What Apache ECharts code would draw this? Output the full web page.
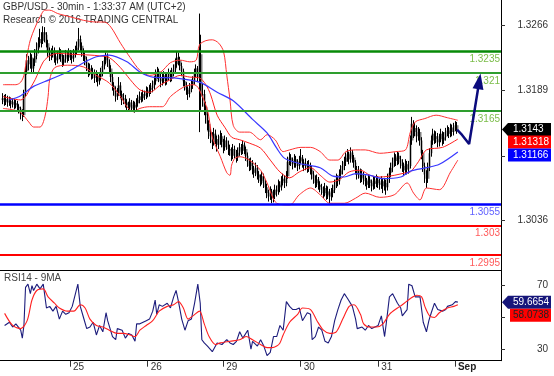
<!DOCTYPE html>
<html>
<head>
<meta charset="utf-8">
<style>
  html, body { margin: 0; padding: 0; background: #fff; }
  #chart { width: 554px; height: 376px; }
</style>
<script src="https://cdn.jsdelivr.net/npm/echarts@6/dist/echarts.min.js"></script>
</head>
<body>
<div id="chart"></div>
<script>
// GBP/USD 30min bars, index 0 = first bar on screen
const firstOpen = 1.3178
const closes = [
  1.3180,1.3176,1.3179,1.3175,1.3177,1.3173,1.3176,1.3172,1.3174,1.3170,
  1.3168,1.3162,1.3160,1.3185,1.3212,1.3225,1.3220,1.3228,1.3215,1.3222,
  1.3230,1.3238,1.3245,1.3250,1.3248,1.3258,1.3255,1.3245,1.3235,1.3230,
  1.3232,1.3236,1.3228,1.3225,1.3230,1.3234,1.3229,1.3222,1.3226,1.3231,
  1.3228,1.3233,1.3230,1.3227,1.3232,1.3236,1.3240,1.3250,1.3242,1.3235,
  1.3230,1.3226,1.3218,1.3212,1.3215,1.3208,1.3210,1.3204,1.3207,1.3200,
  1.3205,1.3210,1.3218,1.3225,1.3230,1.3222,1.3215,1.3205,1.3195,1.3190,
  1.3182,1.3186,1.3195,1.3185,1.3178,1.3180,1.3175,1.3172,1.3170,1.3175,
  1.3168,1.3172,1.3169,1.3174,1.3178,1.3182,1.3180,1.3185,1.3183,1.3188,
  1.3186,1.3190,1.3192,1.3195,1.3200,1.3208,1.3212,1.3205,1.3200,1.3203,
  1.3207,1.3200,1.3206,1.3209,1.3204,1.3210,1.3214,1.3220,1.3228,1.3225,
  1.3218,1.3212,1.3200,1.3195,1.3190,1.3185,1.3192,1.3196,1.3200,1.3210,
  1.3215,1.3205,1.3232,1.3182,1.3185,1.3170,1.3160,1.3150,1.3140,1.3135,
  1.3128,1.3138,1.3132,1.3125,1.3130,1.3135,1.3128,1.3122,1.3130,1.3126,
  1.3120,1.3118,1.3112,1.3120,1.3115,1.3110,1.3116,1.3122,1.3118,1.3125,
  1.3120,1.3112,1.3105,1.3100,1.3104,1.3096,1.3092,1.3098,1.3090,1.3086,
  1.3082,1.3088,1.3080,1.3075,1.3068,1.3064,1.3070,1.3062,1.3066,1.3072,
  1.3070,1.3078,1.3075,1.3082,1.3085,1.3080,1.3088,1.3105,1.3110,1.3106,
  1.3102,1.3108,1.3104,1.3100,1.3106,1.3110,1.3104,1.3100,1.3103,1.3098,
  1.3101,1.3096,1.3090,1.3085,1.3080,1.3084,1.3078,1.3075,1.3072,1.3068,
  1.3074,1.3066,1.3070,1.3064,1.3068,1.3072,1.3078,1.3085,1.3082,1.3090,
  1.3095,1.3100,1.3105,1.3110,1.3114,1.3108,1.3116,1.3110,1.3104,1.3096,
  1.3090,1.3094,1.3086,1.3090,1.3084,1.3082,1.3078,1.3084,1.3080,1.3076,
  1.3082,1.3079,1.3084,1.3080,1.3078,1.3082,1.3076,1.3080,1.3075,1.3085,
  1.3092,1.3098,1.3104,1.3110,1.3106,1.3112,1.3108,1.3104,1.3100,1.3095,
  1.3102,1.3096,1.3100,1.3130,1.3150,1.3140,1.3145,1.3135,1.3140,1.3130,
  1.3115,1.3100,1.3090,1.3085,1.3098,1.3115,1.3130,1.3138,1.3132,1.3135,
  1.3128,1.3132,1.3138,1.3130,1.3134,1.3140,1.3142,1.3138,1.3145,1.3140,
  1.3146,1.3148,1.3143
]
const highs = [
  1.3186,1.3184,1.3185,1.3183,1.3182,1.3181,1.3180,1.3179,1.3178,1.3177,
  1.3173,1.3170,1.3167,1.3190,1.3218,1.3232,1.3230,1.3234,1.3232,1.3227,
  1.3238,1.3246,1.3252,1.3262,1.3258,1.3265,1.3264,1.3258,1.3249,1.3240,
  1.3239,1.3242,1.3240,1.3233,1.3236,1.3240,1.3238,1.3232,1.3231,1.3237,
  1.3235,1.3239,1.3237,1.3234,1.3238,1.3242,1.3247,1.3263,1.3254,1.3246,
  1.3239,1.3234,1.3229,1.3222,1.3221,1.3219,1.3216,1.3214,1.3213,1.3210,
  1.3211,1.3216,1.3224,1.3230,1.3234,1.3233,1.3226,1.3219,1.3209,1.3199,
  1.3194,1.3192,1.3205,1.3199,1.3189,1.3186,1.3184,1.3179,1.3176,1.3180,
  1.3178,1.3177,1.3176,1.3180,1.3184,1.3188,1.3187,1.3190,1.3189,1.3194,
  1.3193,1.3196,1.3198,1.3201,1.3206,1.3214,1.3217,1.3215,1.3209,1.3209,
  1.3212,1.3211,1.3211,1.3215,1.3213,1.3216,1.3220,1.3227,1.3235,1.3234,
  1.3229,1.3222,1.3215,1.3204,1.3199,1.3194,1.3198,1.3202,1.3206,1.3215,
  1.3220,1.3218,1.3280,1.3255,1.3198,1.3190,1.3176,1.3165,1.3154,1.3146,
  1.3140,1.3145,1.3143,1.3136,1.3137,1.3142,1.3139,1.3132,1.3136,1.3134,
  1.3130,1.3125,1.3122,1.3126,1.3124,1.3119,1.3122,1.3127,1.3126,1.3130,
  1.3128,1.3123,1.3116,1.3109,1.3110,1.3107,1.3100,1.3104,1.3101,1.3094,
  1.3090,1.3094,1.3091,1.3084,1.3079,1.3072,1.3076,1.3073,1.3072,1.3078,
  1.3077,1.3084,1.3082,1.3088,1.3091,1.3089,1.3094,1.3111,1.3116,1.3114,
  1.3110,1.3114,1.3112,1.3108,1.3112,1.3120,1.3113,1.3108,1.3109,1.3106,
  1.3107,1.3104,1.3100,1.3094,1.3089,1.3090,1.3087,1.3082,1.3079,1.3076,
  1.3080,1.3077,1.3076,1.3073,1.3074,1.3078,1.3084,1.3091,1.3089,1.3096,
  1.3101,1.3106,1.3111,1.3116,1.3120,1.3117,1.3122,1.3119,1.3113,1.3107,
  1.3100,1.3100,1.3097,1.3096,1.3093,1.3089,1.3086,1.3090,1.3088,1.3084,
  1.3088,1.3087,1.3090,1.3088,1.3085,1.3088,1.3085,1.3086,1.3084,1.3091,
  1.3098,1.3104,1.3110,1.3116,1.3114,1.3117,1.3116,1.3112,1.3108,1.3104,
  1.3108,1.3106,1.3106,1.3136,1.3158,1.3154,1.3151,1.3148,1.3146,1.3144,
  1.3134,1.3119,1.3104,1.3095,1.3104,1.3121,1.3136,1.3144,1.3142,1.3141,
  1.3139,1.3138,1.3144,1.3141,1.3140,1.3145,1.3148,1.3146,1.3150,1.3149,
  1.3151,1.3153,1.3152
]
const lows = [
  1.3173,1.3171,1.3172,1.3170,1.3171,1.3168,1.3169,1.3167,1.3168,1.3164,
  1.3162,1.3155,1.3153,1.3158,1.3182,1.3208,1.3213,1.3215,1.3210,1.3211,
  1.3218,1.3226,1.3233,1.3240,1.3240,1.3244,1.3246,1.3240,1.3229,1.3224,
  1.3225,1.3228,1.3222,1.3219,1.3221,1.3226,1.3223,1.3217,1.3218,1.3222,
  1.3222,1.3224,1.3225,1.3221,1.3223,1.3228,1.3232,1.3237,1.3236,1.3229,
  1.3224,1.3219,1.3212,1.3205,1.3207,1.3202,1.3203,1.3198,1.3199,1.3194,
  1.3196,1.3201,1.3206,1.3214,1.3220,1.3217,1.3209,1.3199,1.3189,1.3183,
  1.3176,1.3178,1.3183,1.3180,1.3172,1.3173,1.3169,1.3166,1.3165,1.3166,
  1.3164,1.3164,1.3163,1.3165,1.3170,1.3174,1.3175,1.3176,1.3178,1.3179,
  1.3181,1.3182,1.3185,1.3187,1.3190,1.3196,1.3203,1.3199,1.3193,1.3195,
  1.3198,1.3195,1.3196,1.3201,1.3199,1.3200,1.3206,1.3210,1.3216,1.3219,
  1.3213,1.3206,1.3194,1.3189,1.3184,1.3178,1.3181,1.3187,1.3191,1.3196,
  1.3205,1.3199,1.3140,1.3166,1.3170,1.3160,1.3150,1.3142,1.3132,1.3127,
  1.3120,1.3124,1.3126,1.3117,1.3120,1.3125,1.3122,1.3115,1.3118,1.3119,
  1.3113,1.3112,1.3106,1.3108,1.3109,1.3104,1.3106,1.3112,1.3113,1.3114,
  1.3114,1.3106,1.3099,1.3094,1.3095,1.3090,1.3086,1.3088,1.3084,1.3080,
  1.3076,1.3078,1.3074,1.3068,1.3062,1.3058,1.3060,1.3056,1.3057,1.3061,
  1.3064,1.3066,1.3069,1.3071,1.3077,1.3074,1.3076,1.3085,1.3101,1.3100,
  1.3096,1.3098,1.3098,1.3094,1.3096,1.3102,1.3098,1.3094,1.3095,1.3092,
  1.3093,1.3090,1.3084,1.3079,1.3074,1.3075,1.3072,1.3069,1.3066,1.3062,
  1.3064,1.3060,1.3061,1.3056,1.3059,1.3063,1.3068,1.3074,1.3076,1.3078,
  1.3085,1.3090,1.3095,1.3100,1.3105,1.3102,1.3104,1.3104,1.3098,1.3090,
  1.3084,1.3085,1.3080,1.3081,1.3078,1.3076,1.3072,1.3074,1.3074,1.3070,
  1.3072,1.3073,1.3075,1.3074,1.3072,1.3073,1.3068,1.3071,1.3066,1.3071,
  1.3080,1.3087,1.3093,1.3099,1.3100,1.3101,1.3102,1.3097,1.3093,1.3088,
  1.3090,1.3090,1.3091,1.3097,1.3125,1.3133,1.3135,1.3128,1.3130,1.3124,
  1.3108,1.3093,1.3080,1.3074,1.3080,1.3094,1.3111,1.3125,1.3126,1.3127,
  1.3122,1.3123,1.3128,1.3124,1.3126,1.3130,1.3135,1.3133,1.3134,1.3135,
  1.3136,1.3141,1.3138
]

// indicator lines: [bar index, value]
const upperBand = [[0,1.3196],[8,1.3196],[11,1.3199],[13,1.3207],[15,1.3231],[17,1.3249],[20,1.3264],[23,1.3276],[26,1.3284],[29,1.3284],[34,1.3280],[42,1.3276],[50,1.3272],[58,1.3270],[63,1.3270],[67,1.3264],[73,1.3245],[79,1.3228],[85,1.3213],[91,1.3207],[98,1.3211],[104,1.3222],[110,1.3225],[116,1.3223],[120,1.3225],[122,1.3243],[126,1.3248],[130,1.3249],[134,1.3245],[137,1.3235],[139,1.3207],[141,1.3178],[143,1.3148],[147,1.3140],[153,1.3140],[160,1.3131],[164,1.3137],[169,1.3131],[174,1.3117],[178,1.3119],[185,1.3122],[191,1.3122],[197,1.3117],[203,1.3107],[208,1.3107],[213,1.3117],[219,1.3119],[225,1.3119],[234,1.3115],[244,1.3117],[250,1.3119],[253,1.3140],[256,1.3152],[262,1.3156],[269,1.3160],[276,1.3157],[282.5,1.3154]]
const middleBand = [[0,1.3182],[11,1.3178],[14,1.3182],[17,1.3192],[20,1.3202],[25,1.3223],[29,1.3230],[34,1.3233],[42,1.3232],[54,1.3231],[60,1.3230],[66,1.3228],[73,1.3216],[79,1.3202],[85,1.3190],[91,1.3187],[98,1.3196],[104,1.3202],[110,1.3207],[116,1.3205],[122,1.3204],[126,1.3196],[129,1.3184],[133,1.3160],[138,1.3145],[142,1.3134],[147,1.3131],[153,1.3127],[160,1.3121],[166,1.3107],[172,1.3093],[178,1.3086],[184,1.3093],[191,1.3098],[197,1.3089],[203,1.3081],[209,1.3084],[215,1.3093],[222,1.3095],[228,1.3089],[234,1.3087],[243,1.3089],[250,1.3092],[253,1.3093],[258,1.3105],[263,1.3119],[273,1.3122],[282.5,1.31318]]
const lowerBand = [[0,1.3168],[7,1.3166],[11,1.3163],[16,1.3152],[19,1.3146],[23,1.3146],[26,1.3158],[28,1.3182],[29,1.3202],[32,1.3216],[40,1.3219],[50,1.3217],[58,1.3207],[66,1.3198],[73,1.3182],[77,1.3170],[81,1.3164],[85,1.3168],[91,1.3170],[99,1.3170],[104,1.3182],[112,1.3193],[118,1.3196],[120,1.3195],[122,1.3190],[127,1.3166],[130,1.3134],[135,1.3111],[139,1.3092],[141,1.3089],[142,1.3101],[144,1.3109],[147,1.3111],[153,1.3107],[160,1.3095],[164,1.3080],[170,1.3056],[178,1.3054],[184,1.3066],[191,1.3074],[197,1.3066],[203,1.3056],[212,1.3056],[219,1.3062],[225,1.3068],[234,1.3063],[243,1.3066],[251,1.3080],[255,1.3068],[259,1.3060],[263,1.3074],[271,1.3072],[278,1.3093],[282.5,1.3107]]
const longMA = [[4,1.3178],[11,1.3183],[19,1.3194],[29,1.3202],[40,1.3211],[50,1.3222],[58,1.3229],[66,1.3231],[77,1.3223],[85,1.3211],[93,1.3205],[106,1.3204],[122,1.3199],[133,1.3187],[143,1.3177],[155,1.3155],[164,1.3139],[170,1.3121],[175,1.3109],[184,1.3103],[197,1.3098],[205,1.3088],[212,1.3087],[219,1.3091],[228,1.3089],[236,1.3085],[247,1.3087],[253,1.3094],[263,1.3098],[271,1.3102],[282.5,1.31166]]

const rsi = [[1,45],[4,47],[6,44],[8,46],[11,42],[12,37],[13,45],[14,69],[15.5,71],[17,65],[18,70],[19,67],[21,71],[23,68],[25,71],[27,56],[29,57],[31,54],[33,57],[35,49],[37,54],[39,52],[41,53],[43,57],[45,65],[46.5,71],[48,57],[50,50],[52,43],[54,44],[56,47],[58,39],[60,45],[62,41],[64,53],[65,48],[68,38],[70,36],[71,43],[74,42],[76,37],[78,40],[80,39],[82,35],[83,46],[85,46],[87,47],[89,48],[91,49],[93,54],[94.5,61],[95.5,52],[97,58],[99,57],[102,59],[104,56],[106,63],[107.5,67],[109,60],[111,49],[113,42],[115,48],[117,49],[119,59],[121,71],[122.5,59],[123.5,36],[125,34],[127,32],[130,28.5],[133,34],[136,33],[139,36],[141,34],[143,33],[145,35],[147,41],[149,37],[152,42],[154,30],[155,35],[158,32],[160,36],[162,32],[164,26],[166,28],[168,38],[170,38],[172,45],[174,42],[176,60],[178,57],[180,55],[182,55],[184,56],[186,48],[189,53],[191,52],[192,36],[194,38],[196,44],[198,42],[200,35],[202,34],[204,38],[206,48],[208,55],[210,61],[212,65],[214,62],[217,57],[219,49],[220,43],[223,44],[225,42],[227,45],[229,43],[231,44],[233,45],[235,51],[237,38],[238,46],[240,63],[242,65],[245,59],[247,56],[248,51],[251,55],[252,71],[254,70],[256,63],[259,63],[260,55],[261,47],[263,41],[264.5,48],[266,53],[268,59],[270,55],[273,54],[275,55],[276,57],[279,58],[281,60],[282,61],[282.5,59.6654]]
const rsiMA = [[1,52.6],[6,45],[11,43],[15,48],[18,61],[21,67],[25,68],[28,63],[32,59],[35,56],[40,54],[44,54],[48,58],[51,56],[54,49],[58,45],[62,44],[66,42],[71,40],[75,40],[79,39],[82,38],[85,42],[89,45],[93,48],[97,54],[102,57],[106,58],[109,60],[112,56],[115,49],[118,51],[122,54],[125,46],[128,38],[132,33],[135,34],[141,35],[147,36],[151,38],[155,36],[160,33],[164,31],[167,31],[170,32],[172,34],[174,39],[178,47],[183,52],[186,56],[191,55],[195,48],[199,42],[203,40],[207,41],[211,49],[215,57],[218,58],[222,52],[224,46],[228,44],[232,44],[236,46],[240,52],[245,56],[248,58],[253,62],[257,64],[260,63],[262,57],[265,51],[268,50],[271,53],[276,56],[280,57],[282.5,58.0738]]

// forecast path: last close, dip, then up towards 1.321
const forecast = [[282,1.3143],[284.5,1.3138],[289.5,1.3126],[295.8,1.3200]]

const levels = [1.3235, 1.321, 1.3165, 1.3055, 1.303, 1.2995]
const levelText = ['1.3235', '1.321', '1.3165', '1.3055', '1.303', '1.2995']

const priceTicks = [1.3036, 1.3112, 1.3189, 1.3266]
const priceLabels = [1.3036, 1.3189, 1.3266]
const rsiTicks = [30, 50, 70]
const rsiLabels = [30, 70]
const dayTicks = [41.6, 89.9, 136.8, 184.9, 233.1, 280.7]
const dayNames = ['25', '26', '29', '30', '31', 'Sep']

const lastPrice = 1.3143
const midValue = 1.31318
const maValue = 1.31166
const rsiLast = 59.6654
const rsiMALast = 58.0738

const font = 'Arial, "Liberation Sans", sans-serif'
const levelStyle = [
  { color: '#078a07', width: 2.5, label: '#7cbd4a' },
  { color: '#2e9e2e', width: 2, label: '#7cbd4a' },
  { color: '#2e9e2e', width: 2, label: '#7cbd4a' },
  { color: '#0000ff', width: 2.5, label: '#6262ff' },
  { color: '#ff0000', width: 2, label: '#ff5a5a' },
  { color: '#ff0000', width: 2, label: '#ff5a5a' },
]

const candles = closes.map((c, i) => [i, i ? closes[i - 1] : firstOpen, c, lows[i], highs[i]])
const wicks = closes.map((c, i) => [i, lows[i], highs[i], lows[i], highs[i]])

const chart = echarts.init(document.getElementById('chart'))

function bandLine(data, color, width) {
  return {
    type: 'line', xAxisIndex: 0, yAxisIndex: 0, data, symbol: 'none', smooth: 0.3,
    lineStyle: { color, width }, z: 3, silent: true,
  }
}

chart.setOption({
  animation: false,
  textStyle: { fontFamily: font },
  grid: [
    { left: 0, top: 0, width: 501, height: 270, outerBoundsMode: 'none' },
    { left: 0, top: 270, width: 501, height: 90.7, outerBoundsMode: 'none' },
  ],
  xAxis: [
    {
      type: 'value', gridIndex: 0, min: -1.86, max: 309.3,
      axisLine: { onZero: false, lineStyle: { color: '#000' } },
      axisTick: { show: false }, axisLabel: { show: false }, splitLine: { show: false },
    },
    {
      type: 'value', gridIndex: 1, min: -1.86, max: 309.3,
      axisLine: { onZero: false, lineStyle: { color: '#000' } },
      axisTick: { customValues: dayTicks, length: 6, lineStyle: { color: '#333' } },
      axisLabel: {
        customValues: dayTicks, align: 'left', padding: [0, 0, 0, 3], margin: 2,
        fontSize: 10, color: '#333',
        formatter: (v) => {
          const k = dayTicks.findIndex((d) => Math.abs(d - v) < 0.01)
          const name = dayNames[k]
          return name === 'Sep' ? '{b|Sep}' : name
        },
        rich: { b: { fontWeight: 'bold', fontSize: 10, color: '#222' } },
      },
      splitLine: { show: false },
    },
  ],
  yAxis: [
    {
      type: 'value', gridIndex: 0, position: 'right', min: 1.29772, max: 1.3296,
      axisLine: { show: true, onZero: false, lineStyle: { color: '#000' } },
      axisTick: { show: true, customValues: priceTicks, length: 4, lineStyle: { color: '#333' } },
      axisLabel: {
        customValues: priceLabels, formatter: (v) => v.toFixed(4),
        align: 'right', margin: 47, fontSize: 10, color: '#333',
      },
      splitLine: { show: false },
    },
    {
      type: 'value', gridIndex: 1, position: 'right', min: 22.8, max: 79.9,
      axisLine: { show: true, onZero: false, lineStyle: { color: '#000' } },
      axisTick: { show: true, customValues: rsiTicks, length: 4, lineStyle: { color: '#333' } },
      axisLabel: { customValues: rsiLabels, align: 'right', margin: 47, fontSize: 10, color: '#333' },
      splitLine: { show: false },
    },
  ],
  series: [
    {
      type: 'candlestick', xAxisIndex: 0, yAxisIndex: 0, data: candles,
      encode: { x: 0, y: [1, 2, 3, 4] }, barWidth: 2.8, silent: true,
      itemStyle: { color: '#808080', color0: '#808080', borderColor: '#808080', borderColor0: '#808080', borderWidth: 0 },
    },
    {
      type: 'candlestick', xAxisIndex: 0, yAxisIndex: 0, data: wicks,
      encode: { x: 0, y: [1, 2, 3, 4] }, barWidth: 0.4, silent: true,
      itemStyle: { color: '#000', color0: '#000', borderColor: '#000', borderColor0: '#000', borderWidth: 1 },
    },
    bandLine(upperBand, '#ff3030', 1),
    bandLine(middleBand, '#ff2020', 1),
    bandLine(lowerBand, '#ff3030', 1),
    bandLine(longMA, '#3838ff', 1.2),
    {
      type: 'line', xAxisIndex: 0, yAxisIndex: 0, data: [], z: 4, silent: true,
      markLine: {
        silent: true, symbol: ['none', 'none'], animation: false, precision: 4,
        data: levels.map((v, i) => ({
          yAxis: v,
          lineStyle: { color: levelStyle[i].color, width: levelStyle[i].width, type: 'solid' },
          label: {
            show: true, position: 'insideEndBottom', formatter: levelText[i],
            color: levelStyle[i].label, fontSize: 10, distance: [1, 3],
          },
        })),
      },
    },
    {
      type: 'line', xAxisIndex: 0, yAxisIndex: 0, z: 6, silent: true,
      symbol: 'none', showSymbol: true,
      lineStyle: { color: '#0b0b7d', width: 2.5 },
      data: forecast.map((p, i) => i === forecast.length - 1
        ? { value: p, symbol: 'triangle', symbolSize: [11, 16], symbolRotate: -9, itemStyle: { color: '#0b0b7d' } }
        : { value: p, symbol: 'none' }),
    },
    {
      type: 'line', xAxisIndex: 1, yAxisIndex: 1, data: rsi, symbol: 'none', silent: true,
      lineStyle: { color: '#1c1c7c', width: 1.1 }, z: 3,
    },
    {
      type: 'line', xAxisIndex: 1, yAxisIndex: 1, data: rsiMA, symbol: 'none', smooth: 0.3, silent: true,
      lineStyle: { color: '#ff2020', width: 1.1 }, z: 4,
    },
  ],
})

function tag(y, text, bg, fg, pointed, left) {
  const h = 13
  const r = 551
  const pts = pointed
    ? [[502, y], [508, y - h / 2], [r, y - h / 2], [r, y + h / 2], [508, y + h / 2]]
    : [[left, y - h / 2], [r, y - h / 2], [r, y + h / 2], [left, y + h / 2]]
  return [
    { type: 'polygon', shape: { points: pts }, style: { fill: bg }, z: 20 },
    {
      type: 'text', x: 513, y, z: 21,
      style: { text, fill: fg, fontSize: 10, fontFamily: font, verticalAlign: 'middle', textVerticalAlign: 'middle' },
    },
  ]
}

const yLast = chart.convertToPixel({ yAxisIndex: 0 }, lastPrice)
const yRsi = chart.convertToPixel({ yAxisIndex: 1 }, rsiLast)

chart.setOption({
  graphic: [
    { type: 'text', x: 3, y: 2, style: { text: 'GBP/USD - 30min - 1:33:37 AM (UTC+2)', fill: '#333', fontSize: 10, fontFamily: font } },
    { type: 'text', x: 3, y: 15, style: { text: 'Research © 2016 TRADING CENTRAL', fill: '#333', fontSize: 10, fontFamily: font } },
    { type: 'text', x: 4, y: 273, style: { text: 'RSI14 - 9MA', fill: '#444', fontSize: 10, fontFamily: font } },
    ...tag(yLast, String(lastPrice), '#000', '#fff', true),
    ...tag(yLast + 12.5, String(midValue), '#ff0000', '#fff', false, 508),
    ...tag(yLast + 25.5, String(maValue), '#0000ff', '#fff', false, 508),
    ...tag(yRsi, String(rsiLast), '#16167a', '#fff', true),
    ...tag(yRsi + 13, String(rsiMALast), '#ff0000', '#222', false, 510),
  ],
})
</script>
</body>
</html>
